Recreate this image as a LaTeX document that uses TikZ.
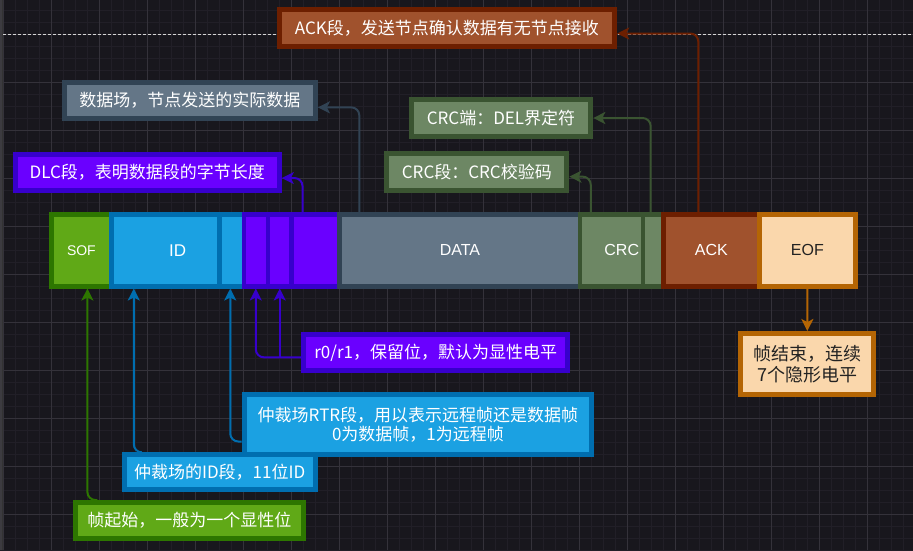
\documentclass[tikz,border=0pt]{standalone}
\usepackage{fontspec}
\setmainfont{Liberation Sans}
\newfontfamily\cjk{Noto Sans CJK SC}
\usepackage{tikz}
\usetikzlibrary{arrows.meta}

\definecolor{bgdark}{HTML}{18171D}
\definecolor{gridminor}{HTML}{211F27}
\definecolor{gridmajor}{HTML}{34323A}
\definecolor{edgegrey}{HTML}{3C3B40}
\definecolor{dashgrey}{HTML}{D4D4D4}
\definecolor{sofgreen}{HTML}{60A917}
\definecolor{sofdark}{HTML}{2D7600}
\definecolor{idblue}{HTML}{1BA1E2}
\definecolor{iddark}{HTML}{006EAF}
\definecolor{dlcpurple}{HTML}{6A00FF}
\definecolor{dlcdark}{HTML}{3700CC}
\definecolor{dataslate}{HTML}{647687}
\definecolor{datadark}{HTML}{314354}
\definecolor{crcolive}{HTML}{6D8764}
\definecolor{crcdark}{HTML}{3A5431}
\definecolor{ackbrown}{HTML}{A0522D}
\definecolor{ackdark}{HTML}{6D1F00}
\definecolor{eofpeach}{HTML}{FAD7AC}
\definecolor{eofdark}{HTML}{B46504}
\definecolor{eoftext}{HTML}{222222}

\begin{document}
\begin{tikzpicture}[x=1pt,y=-1pt]
	\useasboundingbox (0,0) rectangle (913,550);
	\fill[bgdark] (0,0) rectangle (913,550);

	% grid
	\begin{scope}[line width=1pt]
	    \foreach \gx in {3,15,...,903} \draw[gridminor] (\gx,0) -- (\gx,550);
	    \foreach \gy in {10,22,...,550} \draw[gridminor] (0,\gy) -- (913,\gy);
	    \foreach \gx in {3,51,...,867} \draw[gridmajor] (\gx,0) -- (\gx,550);
	    \foreach \gy in {34,82,...,514} \draw[gridmajor] (0,\gy) -- (913,\gy);
	\end{scope}
	\fill[edgegrey] (0,0) rectangle (2,550);
	\draw[black!80, line width=1pt] (2.5,0) -- (2.5,550);
	\draw[dashgrey, line width=1pt, dash pattern=on 3pt off 2pt] (3,34) -- (913,34);

	% frame fields
	\begin{scope}[every node/.style={rectangle,line width=4.5pt,minimum height=72pt,
	              inner sep=0pt,text=white,font=\fontsize{16}{19}\selectfont}]
	    \node[fill=sofgreen,draw=sofdark,minimum width=60.2pt] (sof) at (81.4,250.25) {\fontsize{14}{17}\selectfont SOF};
	    \node[fill=idblue,draw=iddark,minimum width=132.3pt] (idf) at (177.65,250.25) {\fontsize{17}{19}\selectfont ID};
	    \node[fill=idblue,draw=iddark,minimum width=24.1pt] (rtr) at (231.75,250.25) {};
	    \node[fill=dlcpurple,draw=dlcdark,minimum width=95.9pt] (dlcf) at (291.75,250.25) {};
	    \node[fill=dlcpurple,draw=dlcdark,minimum width=24pt] (r0) at (255.8,250.25) {};
	    \node[fill=dlcpurple,draw=dlcdark,minimum width=23.9pt] (r1) at (279.75,250.25) {};
	    \node[fill=dataslate,draw=datadark,minimum width=240.5pt] (data) at (459.95,250.25) {DATA};
	    \node[fill=crcolive,draw=crcdark,minimum width=83.1pt] (crc) at (621.75,250.25) {CRC};
	    \node[fill=crcolive,draw=crcdark,minimum width=20.1pt] (crcdel) at (653.25,250.25) {};
	    \node[fill=ackbrown,draw=ackdark,minimum width=96pt] (ack) at (711.3,250.25) {ACK};
	    \node[fill=eofpeach,draw=eofdark,minimum width=96.2pt,text=eoftext] (eof) at (807.4,250.25) {EOF};
	\end{scope}

	% notes
	\begin{scope}[every node/.style={rectangle,line width=5pt,inner sep=0pt,align=center,
	              text=white,font=\cjk\fontsize{17}{18.5}\selectfont}]
	    \node[fill=ackbrown,draw=ackdark,minimum width=335.6pt,minimum height=36.4pt] (ackbox) at (446.9,28) {ACK段，发送节点确认数据有无节点接收};
	    \node[fill=dataslate,draw=datadark,minimum width=251.2pt,minimum height=35.7pt] (databox) at (189.8,100.35) {数据场，节点发送的实际数据};
	    \node[fill=crcolive,draw=crcdark,minimum width=179.6pt,minimum height=36.4pt] (crcdelbox) at (501,118) {CRC端：DEL界定符};
	    \node[fill=crcolive,draw=crcdark,minimum width=180.1pt,minimum height=36.7pt] (crcbox) at (476.85,171.85) {CRC段：CRC校验码};
	    \node[fill=dlcpurple,draw=dlcdark,minimum width=264pt,minimum height=35.7pt] (dlcbox) at (147.3,172.35) {DLC段，表明数据段的字节长度};
	    \node[fill=dlcpurple,draw=dlcdark,minimum width=263.6pt,minimum height=35.4pt] (r0box) at (435.7,352.5) {r0/r1，保留位，默认为显性电平};
	    \node[fill=idblue,draw=iddark,minimum width=347.5pt,minimum height=59.4pt] (rtrbox) at (417.95,424.5) {仲裁场RTR段，用以表示远程帧还是数据帧\\0为数据帧，1为远程帧};
	    \node[fill=idblue,draw=iddark,minimum width=191.3pt,minimum height=35pt] (idbox) at (219.65,472.3) {仲裁场的ID段，11位ID};
	    \node[fill=sofgreen,draw=sofdark,minimum width=227.3pt,minimum height=35.7pt] (sofbox) at (189.45,520.35) {帧起始，一般为一个显性位};
	    \node[fill=eofpeach,draw=eofdark,minimum width=133pt,minimum height=61.3pt,text=eoftext,
	          font=\cjk\fontsize{18}{21}\selectfont] (eofbox) at (807.3,364.15) {帧结束，连续\\7个隐形电平};
	\end{scope}

	% connectors
	\begin{scope}[line width=2pt,rounded corners=8pt,
	              >={Stealth[length=12pt,width=12pt,inset=3pt]}]
	    \draw[->,ackdark] ([xshift=-13pt]ack.north) |- ([yshift=-5.5pt]ackbox.east);
	    \draw[->,datadark] ([xshift=-100.65pt]data.north) |- ([yshift=-7pt]databox.east);
	    \draw[->,crcdark] ([xshift=-2.6pt]crcdel.north) |- (crcdelbox.east);
	    \draw[->,crcdark] ([xshift=-31pt]crc.north) |- ([yshift=-4.8pt]crcbox.east);
	    \draw[->,dlcdark] ([xshift=10.75pt]dlcf.north) |- ([yshift=-5.7pt]dlcbox.east);
	    \draw[->,eofdark] (eof.south) -- (eofbox.north);
	    \draw[->,dlcdark] ([yshift=-4.8pt]r0box.west) coordinate (rtap) -| (r0.south);
	    \draw[->,dlcdark] (rtap -| r1.south) -- (r1.south);
	    \draw[->,iddark] ([yshift=-17pt]rtrbox.west) -| ([xshift=-1.5pt]rtr.south);
	    \draw[->,iddark] ([xshift=20pt]idbox.north west) -| ([xshift=24.55pt]idf.south west);
	    \draw[->,sofdark] ([xshift=24pt]sofbox.north west) -| ([xshift=6pt]sof.south);
	\end{scope}
\end{tikzpicture}
\end{document}
